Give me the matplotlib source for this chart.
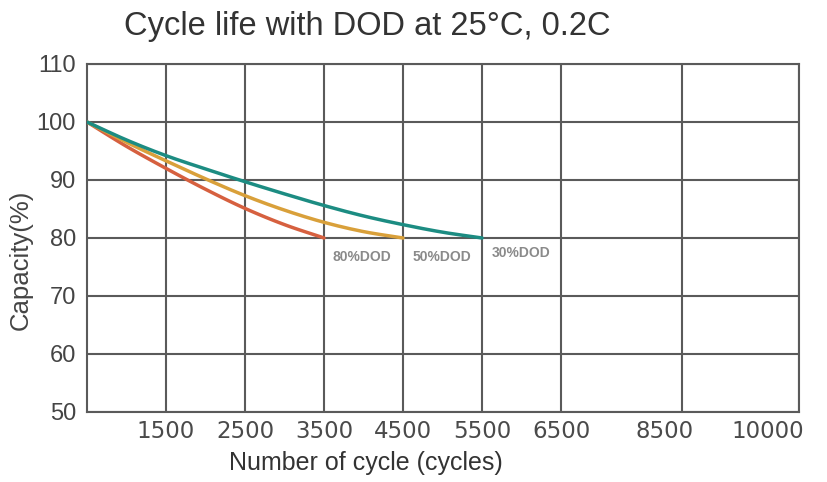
import numpy as np
import matplotlib
matplotlib.use("Agg")
import matplotlib.pyplot as plt
from matplotlib.transforms import ScaledTranslation

# ---- data ----
tick_cycles = [1500, 2500, 3500, 4500, 5500, 6500, 8500, 10000]
tick_labels = ["1500", "2500", "3500", "4500", "5500", "6500", "8500", "10000"]
# axis is non-linear: cycles -> grid position
scale_cycles = [0, 1500, 2500, 3500, 4500, 5500, 6500, 8500, 10000]
scale_pos = [0, 1, 2, 3, 4, 5, 6, 7.53, 9.01]

dod30_x = [0, 750, 1500, 2000, 2500, 3000, 3500, 4000, 4500, 5000, 5500]
dod30_y = [100, 96.9, 94.2, 91.9, 89.7, 87.6, 85.6, 83.8, 82.3, 81.0, 80]
dod50_x = [0, 750, 1500, 2000, 2500, 3000, 3500, 4000, 4500]
dod50_y = [100, 96.5, 93.3, 90.2, 87.3, 84.8, 82.7, 81.1, 80]
dod80_x = [0, 750, 1500, 2000, 2500, 3000, 3500]
dod80_y = [100, 95.8, 92.0, 88.4, 85.1, 82.3, 80]
series_names = ["30%DOD", "50%DOD", "80%DOD"]
y_ticks = [50, 60, 70, 80, 90, 100, 110]


def fwd(c):
    return np.interp(c, scale_cycles, scale_pos)


def inv(p):
    return np.interp(p, scale_pos, scale_cycles)


def smooth(xs, ys, n=20):
    # Catmull-Rom rendering through the read points (in grid-position space)
    px = fwd(np.asarray(xs, float))
    py = np.asarray(ys, float)
    P = np.column_stack([px, py])
    P = np.vstack([2 * P[0] - P[1], P, 2 * P[-1] - P[-2]])
    out = []
    t = np.linspace(0, 1, n, endpoint=False)[:, None]
    for i in range(1, len(P) - 2):
        p0, p1, p2, p3 = P[i - 1], P[i], P[i + 1], P[i + 2]
        seg = 0.5 * ((2 * p1) + (-p0 + p2) * t + (2 * p0 - 5 * p1 + 4 * p2 - p3) * t ** 2
                     + (-p0 + 3 * p1 - 3 * p2 + p3) * t ** 3)
        out.append(seg)
    out.append(P[-2][None, :])
    out = np.vstack(out)
    return inv(out[:, 0]), out[:, 1]


narrow = ["Liberation Sans Narrow", "Liberation Sans", "DejaVu Sans"]
arial = ["Liberation Sans", "DejaVu Sans"]

fig = plt.figure(figsize=(8.28, 4.82), dpi=100)
ax = fig.add_axes([87/828, 1-412/482, (799-87)/828, (412-64)/482])
ax.set_xscale("function", functions=(fwd, inv))
ax.set_xlim(0, 10000)
ax.set_ylim(50, 110)

grid_c = "#5a5a5a"
ax.set_xticks(tick_cycles)
ax.set_xticklabels(tick_labels)
ax.set_yticks(y_ticks)
ax.grid(True, color=grid_c, linewidth=1.5)
ax.set_axisbelow(True)
for s in ax.spines.values():
    s.set_color(grid_c)
    s.set_linewidth(1.5)
ax.tick_params(length=0)
ax.tick_params(axis="y", pad=8, labelsize=17, labelcolor="#444444")
ax.tick_params(axis="x", pad=6, labelsize=16.5, labelcolor="#4a4a4a")
for t in ax.get_yticklabels():
    t.set_family(arial)
for t in ax.get_xticklabels():
    t.set_family(["DejaVu Sans"])
# shift the last two x labels as in the reference
offs = {"8500": -17, "10000": -31}
for t in ax.get_xticklabels():
    if t.get_text() in offs:
        t.set_transform(t.get_transform() + ScaledTranslation(offs[t.get_text()]/100, 0, fig.dpi_scale_trans))

for xs, ys, c, z in [(dod80_x, dod80_y, "#d6603f", 3),
                     (dod50_x, dod50_y, "#d9a03a", 4),
                     (dod30_x, dod30_y, "#1c8c82", 5)]:
    sx, sy = smooth(xs, ys)
    ax.plot(sx, sy, color=c, lw=2.5, solid_capstyle="round", zorder=z)

lab_kw = dict(fontsize=10, fontweight="bold", color="#8a8a8a", family=arial, va="center", ha="left")
ax.text(dod80_x[-1], 76.7, series_names[2], **lab_kw,
        transform=ax.transData + ScaledTranslation(8/100, 0, fig.dpi_scale_trans))
ax.text(dod50_x[-1], 76.7, series_names[1], **lab_kw,
        transform=ax.transData + ScaledTranslation(9/100, 0, fig.dpi_scale_trans))
ax.text(dod30_x[-1], 77.4, series_names[0], **lab_kw,
        transform=ax.transData + ScaledTranslation(10/100, 0, fig.dpi_scale_trans))

fig.text(367/828, 1-27/482, "Cycle life with DOD at 25\u00b0C, 0.2C", ha="center", va="center",
         fontsize=23.5, color="#333333", family=narrow)
fig.text(366/828, 1-463/482, "Number of cycle (cycles)", ha="center", va="center",
         fontsize=18, color="#333333", family=narrow)
fig.text(21/828, 1-260/482, "Capacity(%)", ha="center", va="center", rotation=90,
         fontsize=18.5, color="#444444", family=arial)

fig.savefig("out.png", dpi=100, facecolor="white")
